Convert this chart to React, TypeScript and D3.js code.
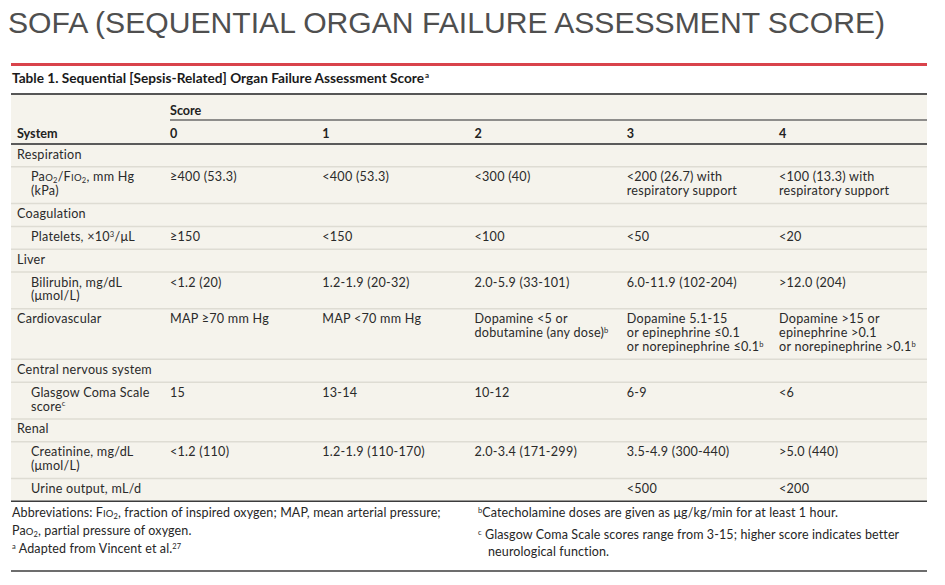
import React from "react";
import * as d3 from "d3";

// ---------- data ----------
const pageTitle = "SOFA (SEQUENTIAL ORGAN FAILURE ASSESSMENT SCORE)";
const tableTitle = "Table 1. Sequential [Sepsis-Related] Organ Failure Assessment Score";
const scoreHeader = "Score";
const systemHeader = "System";
const scores = ["0", "1", "2", "3", "4"];

const rowLabels: string[][] = [
  ["Respiration"],
  ["Pa[[O]]_{2}/F[[IO]]_{2}, mm Hg", "(kPa)"],
  ["Coagulation"],
  ["Platelets, ×10^{3}/μL"],
  ["Liver"],
  ["Bilirubin, mg/dL", "(μmol/L)"],
  ["Cardiovascular"],
  ["Central nervous system"],
  ["Glasgow Coma Scale", "score^{c}"],
  ["Renal"],
  ["Creatinine, mg/dL", "(μmol/L)"],
  ["Urine output, mL/d"],
];
const rowIndented = [false, true, false, true, false, true, false, false, true, false, true, true];

const score0: string[][] = [[], ["≥400 (53.3)"], [], ["≥150"], [], ["<1.2 (20)"], ["MAP ≥70 mm Hg"], [], ["15"], [], ["<1.2 (110)"], []];
const score1: string[][] = [[], ["<400 (53.3)"], [], ["<150"], [], ["1.2-1.9 (20-32)"], ["MAP <70 mm Hg"], [], ["13-14"], [], ["1.2-1.9 (110-170)"], []];
const score2: string[][] = [[], ["<300 (40)"], [], ["<100"], [], ["2.0-5.9 (33-101)"], ["Dopamine <5 or", "dobutamine (any dose)^{b}"], [], ["10-12"], [], ["2.0-3.4 (171-299)"], []];
const score3: string[][] = [[], ["<200 (26.7) with", "respiratory support"], [], ["<50"], [], ["6.0-11.9 (102-204)"], ["Dopamine 5.1-15", "or epinephrine ≤0.1", "or norepinephrine ≤0.1^{b}"], [], ["6-9"], [], ["3.5-4.9 (300-440)"], ["<500"]];
const score4: string[][] = [[], ["<100 (13.3) with", "respiratory support"], [], ["<20"], [], [">12.0 (204)"], ["Dopamine >15 or", "epinephrine >0.1", "or norepinephrine >0.1^{b}"], [], ["<6"], [], [">5.0 (440)"], ["<200"]];
const scoreColumns = [score0, score1, score2, score3, score4];

const leftNotes = [
  "Abbreviations: F[[IO]]_{2}, fraction of inspired oxygen; MAP, mean arterial pressure;",
  "Pa[[O]]_{2}, partial pressure of oxygen.",
  "^{a} Adapted from Vincent et al.^{27}",
];
const rightNotes = [
  "^{b}Catecholamine doses are given as μg/kg/min for at least 1 hour.",
  "^{c} Glasgow Coma Scale scores range from 3-15; higher score indicates better",
  "neurological function.",
];

// ---------- layout ----------
const W = 945;
const H = 585;
const left = 11;
const right = 927;
const FONT = "Lato, 'Open Sans', sans-serif";

function Rich({ text, x, y, size, weight = 400, fill = "#222", family = FONT, spacing = 0 }: any) {
  const parts = text.split(/(_\{[^}]*\}|\^\{[^}]*\}|\[\[[^\]]*\]\])/).filter((p: string) => p.length > 0);
  let off = 0;
  const kids = parts.map((p: string, i: number) => {
    let t = p;
    let fs = size;
    let target = 0;
    if (p.startsWith("_{")) {
      t = p.slice(2, -1);
      fs = size * 0.6;
      target = size * 0.14;
    } else if (p.startsWith("^{")) {
      t = p.slice(2, -1);
      fs = size * 0.6;
      target = -size * 0.34;
    } else if (p.startsWith("[[")) {
      t = p.slice(2, -2);
      fs = size * 0.76;
    }
    const dy = target - off;
    off = target;
    return (
      <tspan key={i} fontSize={fs} dy={dy}>
        {t}
      </tspan>
    );
  });
  return (
    <text x={x} y={y} fontSize={size} fontWeight={weight} fill={fill} fontFamily={family} letterSpacing={spacing} style={{ whiteSpace: "pre" }}>
      {kids}
    </text>
  );
}

export default function App() {
  const x = d3.scalePoint<string>().domain(scores).range([170, 779]);
  const lineCounts = rowLabels.map((lab, i) =>
    Math.max(lab.length, ...scoreColumns.map((c) => c[i].length), 1)
  );
  const lineH = 13.85;
  const rowPad = 9;
  const tableTop = 144;
  const heights = lineCounts.map((n) => rowPad + lineH * n);
  const tops = heights.map((_, i) => tableTop + d3.sum(heights.slice(0, i)));
  const tableBottom = tableTop + d3.sum(heights);
  const bodySize = 12.6;
  const bodySpacing = 0.25;
  const noteSize = 12.5;
  const noteSpacing = 0.12;

  return (
    <svg width={W} height={H} style={{ position: "absolute", left: 0, top: 0, background: "#fff" }}>
      {/* page title */}
      <text x={8} y={33} fontSize={30} fontFamily="'Liberation Sans', Arial, sans-serif" fill="#4f4f4f" textLength={877} lengthAdjust="spacingAndGlyphs">
        {pageTitle}
      </text>
      <line x1={left} x2={right} y1={64.5} y2={64.5} stroke="#d9434b" strokeWidth={3} />
      {/* table title */}
      <text x={12} y={83} fontSize={12.5} fontWeight={700} fontFamily={FONT} fill="#1a1a1a" textLength={412} lengthAdjust="spacingAndGlyphs">
        {tableTitle}
      </text>
      <text x={425} y={78} fontSize={8} fontWeight={700} fontFamily={FONT} fill="#1a1a1a">a</text>
      <line x1={left} x2={right} y1={94} y2={94} stroke="#1e1e1e" strokeWidth={1.5} />
      {/* table background */}
      <rect x={left} y={95} width={right - left} height={tableBottom - 95} fill="#f5f3ec" />
      {/* header */}
      <text x={x("0")} y={115} fontSize={12.6} fontWeight={700} fontFamily={FONT} fill="#222">{scoreHeader}</text>
      <line x1={x("0")} x2={right} y1={120} y2={120} stroke="#6b6b6b" strokeWidth={1.5} />
      <text x={17} y={138} fontSize={12.6} fontWeight={700} fontFamily={FONT} fill="#222">{systemHeader}</text>
      {scores.map((s) => (
        <text key={s} x={x(s)} y={138} fontSize={12.6} fontWeight={700} fontFamily={FONT} fill="#222">{s}</text>
      ))}
      <line x1={left} x2={right} y1={tableTop} y2={tableTop} stroke="#5a5a5a" strokeWidth={2} />
      {/* rows */}
      {rowLabels.map((lab, i) => (
        <g key={i}>
          {i > 0 && (
            <line x1={left} x2={right} y1={tops[i]} y2={tops[i]} stroke="#dedcd3" strokeWidth={1.5} />
          )}
          {lab.map((ln, j) => (
            <Rich key={"l" + j} text={ln} x={rowIndented[i] ? 31 : 17} y={tops[i] + 14.5 + j * lineH} size={bodySize} spacing={bodySpacing} fill="#2a2a2a" />
          ))}
          {scoreColumns.map((col, c) =>
            col[i].map((ln, j) => (
              <Rich key={c + "-" + j} text={ln} x={x(scores[c])} y={tops[i] + 14.5 + j * lineH} size={bodySize} spacing={bodySpacing} fill="#2a2a2a" />
            ))
          )}
        </g>
      ))}
      <line x1={left} x2={right} y1={tableBottom} y2={tableBottom} stroke="#3c3c3c" strokeWidth={1.5} />
      {/* footnotes */}
      <Rich text={leftNotes[0]} x={12} y={517} size={noteSize} spacing={noteSpacing} fill="#262626" />
      <Rich text={leftNotes[1]} x={12} y={535} size={noteSize} spacing={noteSpacing} fill="#262626" />
      <Rich text={leftNotes[2]} x={12} y={553} size={noteSize} spacing={noteSpacing} fill="#262626" />
      <Rich text={rightNotes[0]} x={478} y={517} size={noteSize} spacing={noteSpacing} fill="#262626" />
      <Rich text={rightNotes[1]} x={478} y={539} size={noteSize} spacing={noteSpacing} fill="#262626" />
      <Rich text={rightNotes[2]} x={488} y={556} size={noteSize} spacing={noteSpacing} fill="#262626" />
      <line x1={left} x2={right} y1={571} y2={571} stroke="#3c3c3c" strokeWidth={1.5} />
    </svg>
  );
}
